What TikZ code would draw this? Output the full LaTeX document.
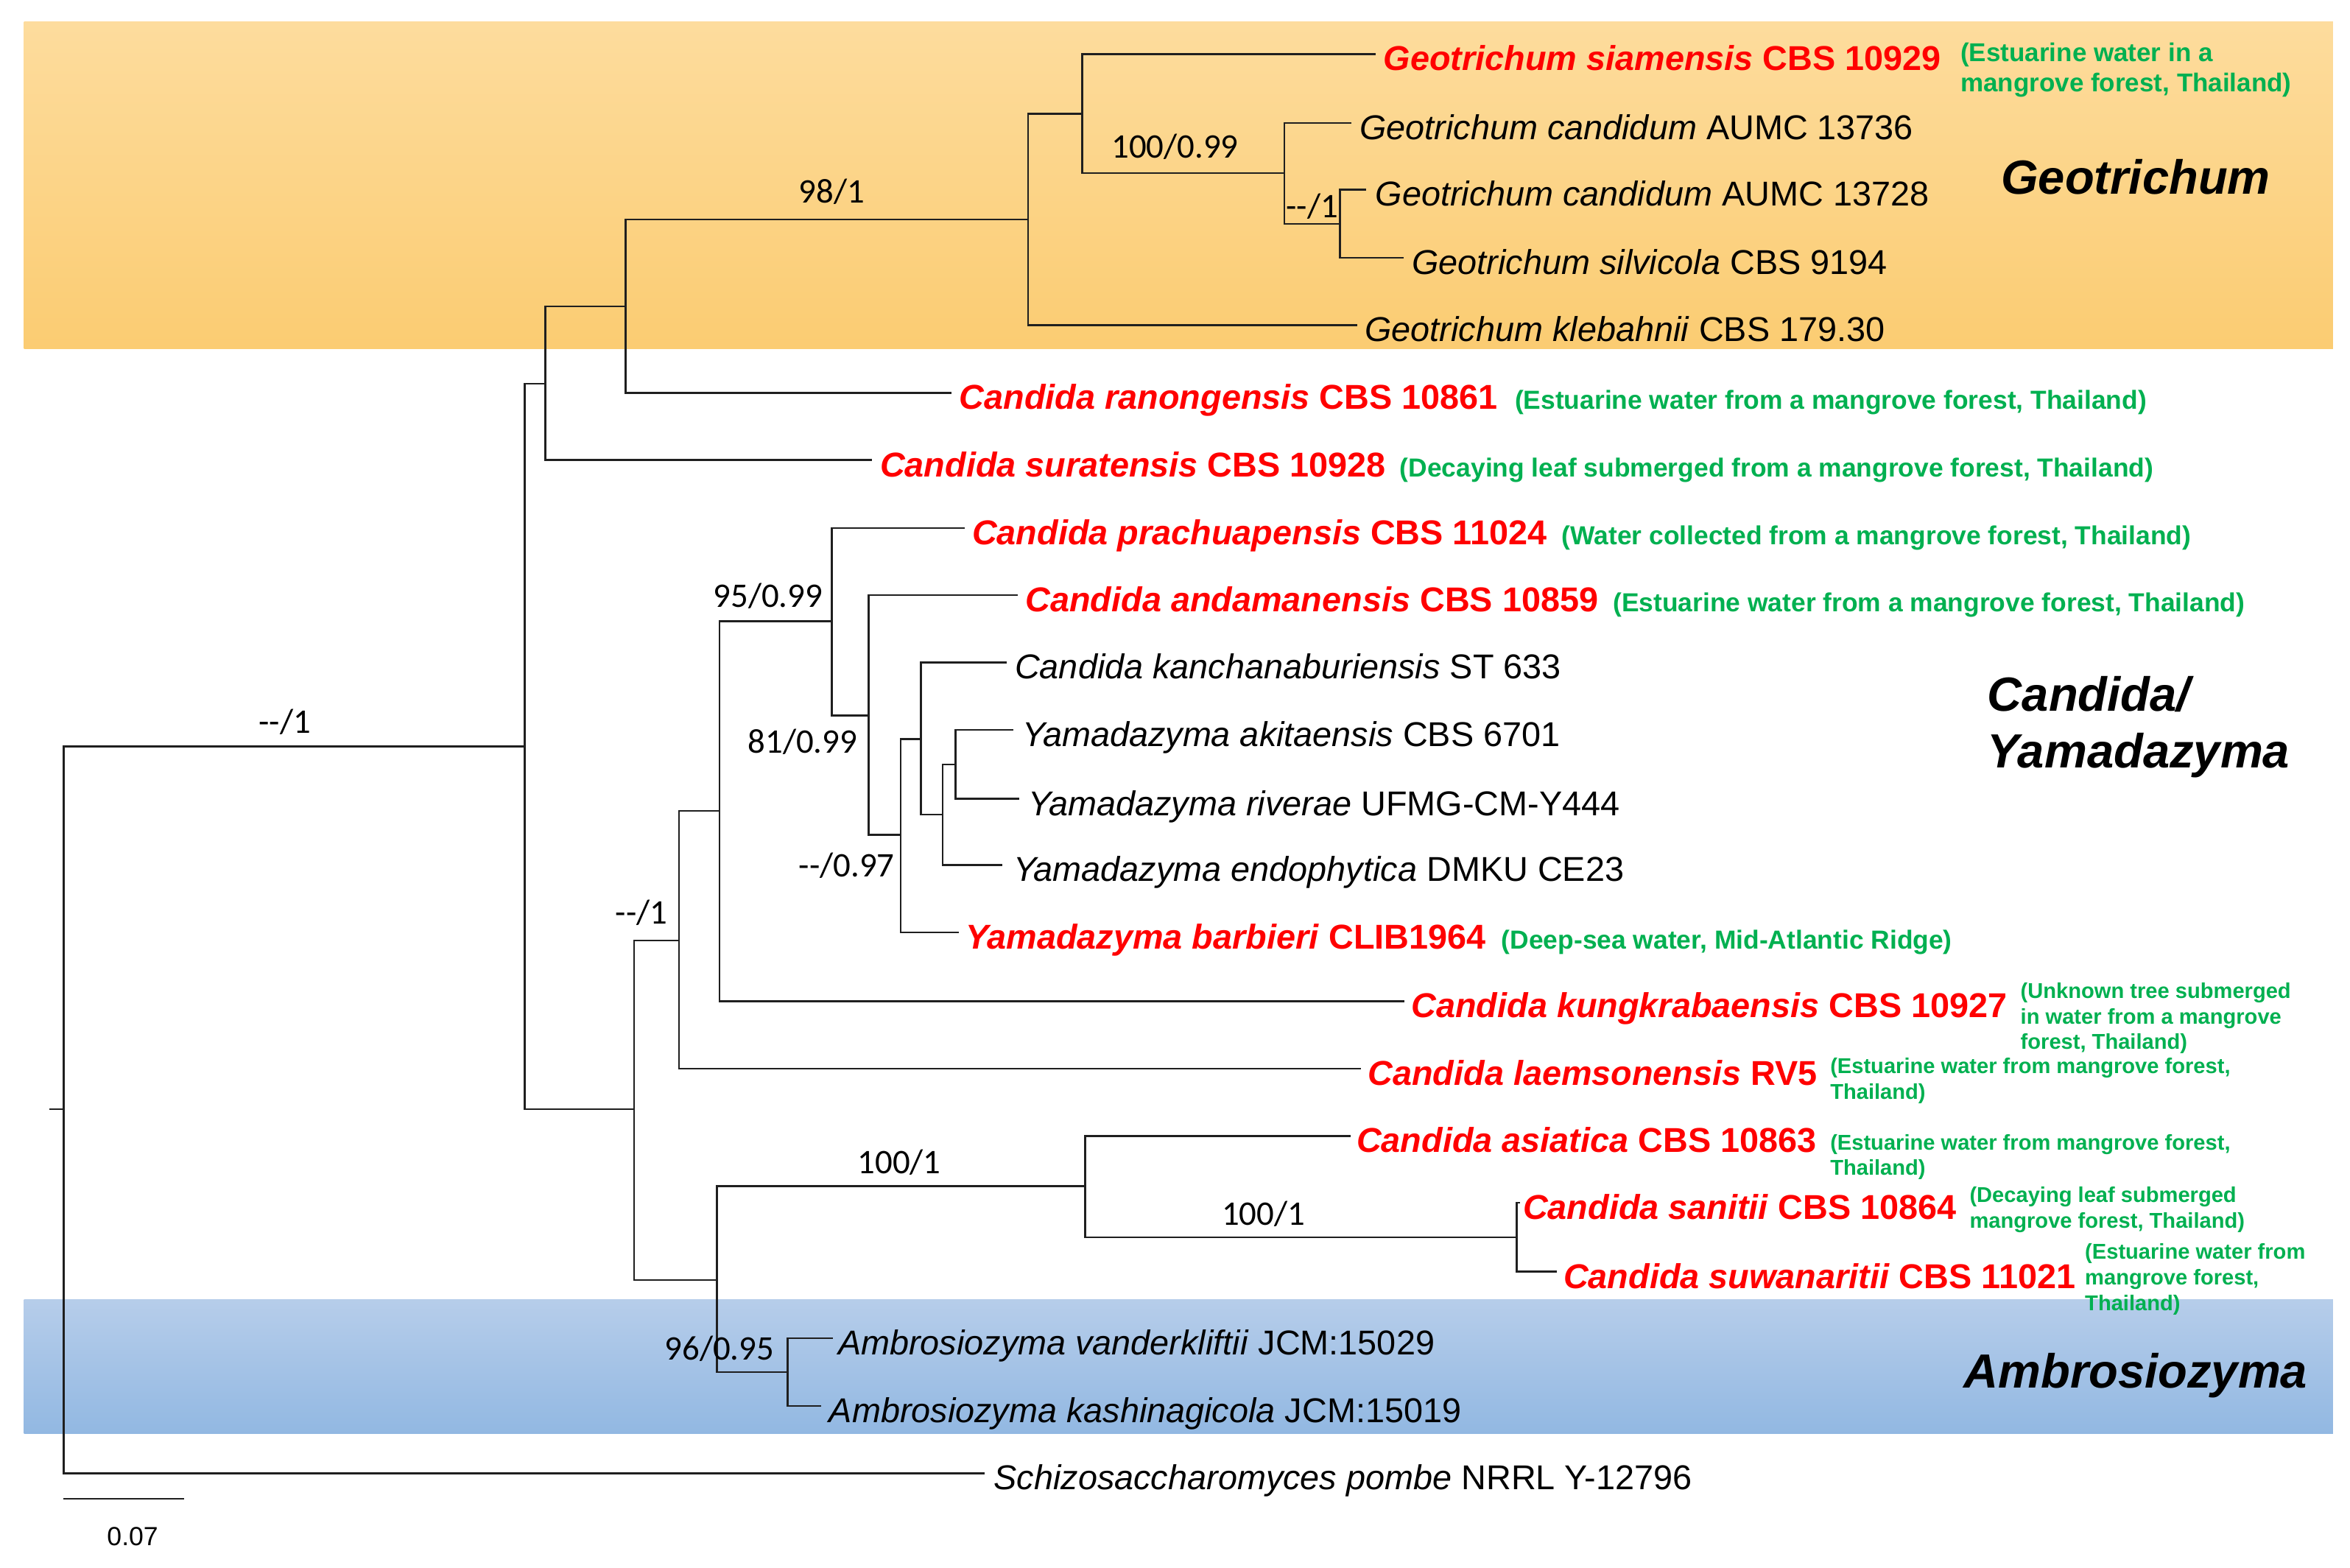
\documentclass[tikz,border=0pt]{standalone}
\usepackage{fontspec}
\setmainfont{Liberation Sans}
\newfontfamily\supfont{Carlito}
\usetikzlibrary{calc}
\definecolor{hgreen}{RGB}{0,176,80}
\definecolor{hred}{RGB}{255,0,0}
\definecolor{orTop}{RGB}{253,220,157}
\definecolor{orBot}{RGB}{251,204,114}
\definecolor{blTop}{RGB}{182,205,234}
\definecolor{blBot}{RGB}{146,184,226}
\newcommand{\tx}[2]{\textit{#1} #2}
\begin{document}
\begin{tikzpicture}[x=1pt,y=-1pt,
  br/.style={line width=1.3pt, draw=black!88},
  tipb/.style={anchor=base west, inner sep=0pt, font=\fontsize{23}{27}\selectfont, text=black},
  tipr/.style={anchor=base west, inner sep=0pt, font=\fontsize{23}{27}\selectfont\bfseries, text=hred},
  hab/.style={anchor=base west, inner sep=0pt, font=\fontsize{17.4}{20}\selectfont\bfseries, text=hgreen},
  habm/.style={anchor=north west, inner sep=0pt, align=left, font=\fontsize{17.2}{20}\selectfont\bfseries, text=hgreen},
  habs/.style={anchor=north west, inner sep=0pt, align=left, font=\fontsize{14.3}{17}\selectfont\bfseries, text=hgreen},
  supp/.style={anchor=base, inner sep=0pt, font=\supfont\fontsize{23}{27}\selectfont},
  clade/.style={anchor=base west, inner sep=0pt, font=\fontsize{32}{40}\selectfont\bfseries\itshape},
]
\useasboundingbox (0,0) rectangle (1568,1045.7);
% clade bands
\shade[top color=orTop, bottom color=orBot] (16,14.7) rectangle (1556.6,232.5);
\shade[top color=blTop, bottom color=blBot] (16,867.2) rectangle (1556.6,956.5);

% internal nodes
\coordinate (root0) at (33,740);
\coordinate (R) at (42.5,740);
\coordinate (A) at (350,498);
\coordinate (B) at (364,256);
\coordinate (D) at (417.5,204.5);
\coordinate (E) at (686,146.5);
\coordinate (F) at (722,76);
\coordinate (G) at (857,115.5);
\coordinate (H) at (894,149.3);
\coordinate (C) at (423,740);
\coordinate (I) at (453,627.5);
\coordinate (K) at (480,541);
\coordinate (L) at (555,414.5);
\coordinate (M) at (579.5,477.5);
\coordinate (N) at (601,557);
\coordinate (O) at (614.5,493);
\coordinate (P) at (629,543.5);
\coordinate (Q) at (637.5,510);
\coordinate (J) at (478.5,854);
\coordinate (T) at (724,791.5);
\coordinate (V) at (1012,825.5);
\coordinate (U) at (525.5,915.4);
% tips
\coordinate (tSiam) at (918,36);
\coordinate (tGc1) at (901.5,82);
\coordinate (tGc2) at (911.5,126.5);
\coordinate (tGsil) at (936.5,172);
\coordinate (tGkle) at (905.5,217);
\coordinate (tRan) at (635,262);
\coordinate (tSur) at (582,307);
\coordinate (tPra) at (643.5,352.3);
\coordinate (tAnd) at (679,397);
\coordinate (tKan) at (671.5,442);
\coordinate (tAki) at (676,487);
\coordinate (tRiv) at (680,533);
\coordinate (tEnd) at (669,577);
\coordinate (tBar) at (640,622);
\coordinate (tKun) at (937,668);
\coordinate (tLae) at (908,713);
\coordinate (tAsi) at (901,758);
\coordinate (tSan) at (1014,802.5);
\coordinate (tSuw) at (1039,848.5);
\coordinate (tVan) at (555.5,892.8);
\coordinate (tKas) at (548,938);
\coordinate (tSch) at (657,983);

% branches
\draw[br] (root0) -- (R);
\draw[br] (R) |- (A);  \draw[br] (R) |- (tSch);
\draw[br] (A) |- (B);  \draw[br] (A) |- (C);
\draw[br] (B) |- (D);  \draw[br] (B) |- (tSur);
\draw[br] (D) |- (E);  \draw[br] (D) |- (tRan);
\draw[br] (E) |- (F);  \draw[br] (E) |- (tGkle);
\draw[br] (F) |- (tSiam); \draw[br] (F) |- (G);
\draw[br] (G) |- (tGc1); \draw[br] (G) |- (H);
\draw[br] (H) |- (tGc2); \draw[br] (H) |- (tGsil);
\draw[br] (C) |- (I);  \draw[br] (C) |- (J);
\draw[br] (I) |- (K);  \draw[br] (I) |- (tLae);
\draw[br] (K) |- (L);  \draw[br] (K) |- (tKun);
\draw[br] (L) |- (tPra); \draw[br] (L) |- (M);
\draw[br] (M) |- (tAnd); \draw[br] (M) |- (N);
\draw[br] (N) |- (O);  \draw[br] (N) |- (tBar);
\draw[br] (O) |- (tKan); \draw[br] (O) |- (P);
\draw[br] (P) |- (Q);  \draw[br] (P) |- (tEnd);
\draw[br] (Q) |- (tAki); \draw[br] (Q) |- (tRiv);
\draw[br] (J) |- (T);  \draw[br] (J) |- (U);
\draw[br] (T) |- (tAsi); \draw[br] (T) |- (V);
\draw[br] (V) |- (tSan); \draw[br] (V) |- (tSuw);
\draw[br] (U) |- (tVan); \draw[br] (U) |- (tKas);

% tip labels
\node[tipr] (lSiam) at ($(tSiam)+(5,11)$) {\tx{Geotrichum siamensis}{CBS 10929}};
\node[tipb] (lGc1) at ($(tGc1)+(5.5,11)$) {\tx{Geotrichum candidum}{AUMC 13736}};
\node[tipb] (lGc2) at ($(tGc2)+(6,11)$) {\tx{Geotrichum candidum}{AUMC 13728}};
\node[tipb] (lGsil) at ($(tGsil)+(5.5,11)$) {\tx{Geotrichum silvicola}{CBS 9194}};
\node[tipb] (lGkle) at ($(tGkle)+(5,11)$) {\tx{Geotrichum klebahnii}{CBS 179.30}};
\node[tipr] (lRan) at ($(tRan)+(5,11)$) {\tx{Candida ranongensis}{CBS 10861}};
\node[tipr] (lSur) at ($(tSur)+(5,11)$) {\tx{Candida suratensis}{CBS 10928}};
\node[tipr] (lPra) at ($(tPra)+(5,11)$) {\tx{Candida prachuapensis}{CBS 11024}};
\node[tipr] (lAnd) at ($(tAnd)+(5,11)$) {\tx{Candida andamanensis}{CBS 10859}};
\node[tipb] (lKan) at ($(tKan)+(5.5,11)$) {\tx{Candida kanchanaburiensis}{ST 633}};
\node[tipb] (lAki) at ($(tAki)+(6,11)$) {\tx{Yamadazyma akitaensis}{CBS 6701}};
\node[tipb] (lRiv) at ($(tRiv)+(6,11)$) {\tx{Yamadazyma riverae}{UFMG-CM-Y444}};
\node[tipb] (lEnd) at ($(tEnd)+(7,11)$) {\tx{Yamadazyma endophytica}{DMKU CE23}};
\node[tipr] (lBar) at ($(tBar)+(4,11)$) {\tx{Yamadazyma barbieri}{CLIB1964}};
\node[tipr] (lKun) at ($(tKun)+(4.5,11)$) {\tx{Candida kungkrabaensis}{CBS 10927}};
\node[tipr] (lLae) at ($(tLae)+(4.5,11)$) {\tx{Candida laemsonensis}{RV5}};
\node[tipr] (lAsi) at ($(tAsi)+(4,11)$) {\tx{Candida asiatica}{CBS 10863}};
\node[tipr] (lSan) at ($(tSan)+(2,11)$) {\tx{Candida sanitii}{CBS 10864}};
\node[tipr] (lSuw) at ($(tSuw)+(4,11)$) {\tx{Candida suwanaritii}{CBS 11021}};
\node[tipb] (lVan) at ($(tVan)+(3.5,11)$) {\tx{Ambrosiozyma vanderkliftii}{JCM:15029}};
\node[tipb] (lKas) at ($(tKas)+(5,11)$) {\tx{Ambrosiozyma kashinagicola}{JCM:15019}};
\node[tipb] (lSch) at ($(tSch)+(6,11)$) {\tx{Schizosaccharomyces pombe}{NRRL Y-12796}};

% habitats
\node[habm] (gSiam) at (1308,28.6) {(Estuarine water in a\\mangrove forest, Thailand)};
\node[hab] (gRan) at ($(lRan.base east)+(11,0)$) {(Estuarine water from a mangrove forest, Thailand)};
\node[hab] (gSur) at ($(lSur.base east)+(9,0)$) {(Decaying leaf submerged from a mangrove forest, Thailand)};
\node[hab] (gPra) at ($(lPra.base east)+(9.5,0)$) {(Water collected from a mangrove forest, Thailand)};
\node[hab] (gAnd) at ($(lAnd.base east)+(9.5,0)$) {(Estuarine water from a mangrove forest, Thailand)};
\node[hab] (gBar) at ($(lBar.base east)+(10,0)$) {(Deep-sea water, Mid-Atlantic Ridge)};
\node[habs] (gKun) at (1348,655.6) {(Unknown tree submerged\\in water from a mangrove\\forest, Thailand)};
\node[habs] (gLae) at (1221,705.6) {(Estuarine water from mangrove forest,\\Thailand)};
\node[habs] (gAsi) at (1221,756.6) {(Estuarine water from mangrove forest,\\Thailand)};
\node[habs] (gSan) at (1314,791.6) {(Decaying leaf submerged\\mangrove forest, Thailand)};
\node[habs] (gSuw) at (1391,829.6) {(Estuarine water from\\mangrove forest,\\Thailand)};

% clade names
\node[clade] (cGeo) at (1335,129.5) {Geotrichum};
\node[clade] (cCan) at (1326,474.5) {Candida/};
\node[clade] (cYam) at (1326,512.5) {Yamadazyma};
\node[clade] (cAmb) at (1310,926) {Ambrosiozyma};

% support values
\node[supp] (s1) at (190,489) {-{}-/1};
\node[supp] (s2) at (555,135.3) {98/1};
\node[supp] (s3) at (784,105.5) {100/0.99};
\node[supp] (s4) at (875.5,145) {-{}-/1};
\node[supp] (s5) at (512.5,405) {95/0.99};
\node[supp] (s6) at (535.5,502.5) {81/0.99};
\node[supp] (s7) at (565,585) {-{}-/0.97};
\node[supp] (s8) at (428,616.5) {-{}-/1};
\node[supp] (s9) at (600,783) {100/1};
\node[supp] (s10) at (843,817.5) {100/1};
\node[supp] (s11) at (480,907.5) {96/0.95};

% scale bar
\coordinate (sb0) at (42.5,1000);
\coordinate (sb1) at (123,1000);
\draw[br] (sb0) -- (sb1);
\node[anchor=base, inner sep=0pt, font=\fontsize{17.5}{20}\selectfont] (sbl) at (88.5,1031) {0.07};
\end{tikzpicture}
\end{document}
